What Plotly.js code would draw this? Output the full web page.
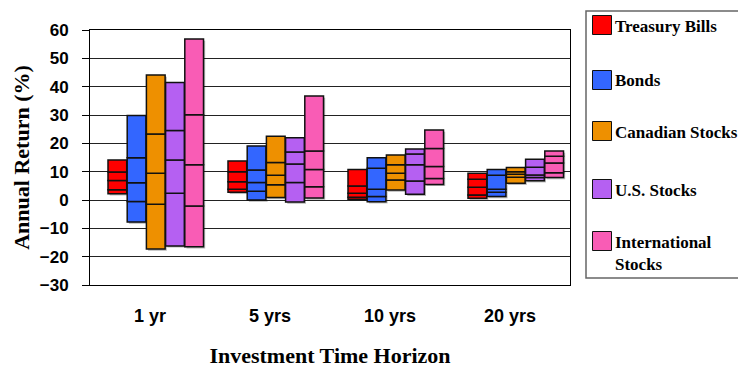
<!DOCTYPE html>
<html>
<head>
<meta charset="utf-8">
<script src="https://cdn.plot.ly/plotly-3.0.1.min.js"></script>
<style>
  html, body { margin: 0; padding: 0; background: #fff; }
  #chart { width: 738px; height: 368px; }
</style>
</head>
<body>
<div id="chart"></div>
<script>
// Investment horizons on the category axis
const horizons = ['1 yr', '5 yrs', '10 yrs', '20 yrs'];

// Asset classes, in drawing order
const assetNames = ['Treasury Bills', 'Bonds', 'Canadian Stocks', 'U.S. Stocks', 'International Stocks'];
const legendLabels = ['Treasury Bills', 'Bonds', 'Canadian Stocks', 'U.S. Stocks', 'International<br>Stocks'];
const assetColors = ['#FF0000', '#3366FF', '#EE9000', '#B560F2', '#F95CB5'];

// Annual return (%) per horizon: [min, lower quartile, median, upper quartile, max]
const treasuryBills = [
  [2.2, 3.6, 6.9, 9.9, 14.1],
  [2.7, 3.8, 6.4, 10.0, 13.8],
  [0.3, 1.0, 2.4, 4.9, 10.8],
  [0.6, 1.8, 4.5, 7.3, 9.4]
];
const bonds = [
  [-7.8, -0.5, 6.1, 14.9, 29.8],
  [0.0, 3.1, 6.2, 10.6, 19.1],
  [-0.6, 1.2, 3.8, 11.2, 14.9],
  [1.2, 2.7, 3.8, 8.7, 10.8]
];
const canadianStocks = [
  [-17.3, -1.5, 9.4, 23.3, 44.1],
  [0.9, 5.4, 8.7, 13.2, 22.5],
  [3.5, 7.1, 9.4, 12.4, 15.9],
  [5.9, 8.0, 9.1, 10.0, 11.5]
];
const usStocks = [
  [-16.2, 2.4, 14.1, 24.5, 41.5],
  [-0.7, 6.2, 12.7, 16.9, 22.0],
  [2.0, 6.7, 12.4, 16.2, 18.0],
  [6.8, 7.9, 8.8, 11.6, 14.4]
];
const internationalStocks = [
  [-16.5, -2.1, 12.4, 30.1, 56.8],
  [0.7, 4.7, 10.8, 17.3, 36.7],
  [5.5, 7.6, 11.8, 18.2, 24.7],
  [7.9, 9.6, 13.1, 15.4, 17.3]
];

const assetStats = [treasuryBills, bonds, canadianStocks, usStocks, internationalStocks];

// Box placement inside each horizon slot (category units)
const boxWidth = 0.156;
const boxStep = 0.16;
const firstOffset = -0.35;

const traces = [];
assetStats.forEach((stats, s) => {
  // soft drop shadow behind the whole box
  traces.push({
    type: 'bar',
    name: assetNames[s] + ' shadow',
    x: horizons,
    base: stats.map(r => r[0] - 0.6),
    y: stats.map(r => r[4] - r[0]),
    offset: firstOffset + s * boxStep + 0.014,
    width: boxWidth,
    marker: { color: 'rgba(0,0,0,0.28)', line: { width: 0 } },
    showlegend: false,
    hoverinfo: 'skip'
  });
  // Each box is four stacked bands between consecutive statistics
  for (let k = 0; k < 4; k++) {
    traces.push({
      type: 'bar',
      name: assetNames[s],
      x: horizons,
      base: stats.map(r => r[k]),
      y: stats.map(r => r[k + 1] - r[k]),
      offset: firstOffset + s * boxStep,
      width: boxWidth,
      marker: { color: assetColors[s], line: { color: '#111', width: 1.5 } },
      showlegend: false,
      hovertemplate: assetNames[s] + ' %{x}: %{base:.1f} to %{customdata:.1f}%<extra></extra>',
      customdata: stats.map(r => r[k + 1])
    });
  }
});

// Chart area geometry in pixels, for placing the key box
const W = 738, H = 368;
const M = { l: 90, r: 168, t: 30, b: 83 };
const plotW = W - M.l - M.r, plotH = H - M.t - M.b;
const px = v => (v - M.l) / plotW;
const py = v => (H - M.b - v) / plotH;

const shapes = [{
  type: 'rect', xref: 'paper', yref: 'paper',
  x0: px(586), x1: px(760), y0: py(278), y1: py(11),
  line: { color: '#666', width: 1.5 }, fillcolor: '#fff', layer: 'above'
}];
const annotations = [];
const keyCenters = [25, 80, 131, 189, 241];
assetNames.forEach((n, s) => {
  const c = keyCenters[s];
  shapes.push({
    type: 'rect', xref: 'paper', yref: 'paper',
    x0: px(592.5), x1: px(611.5), y0: py(c + 9.5), y1: py(c - 9.5),
    line: { color: '#111', width: 1 }, fillcolor: assetColors[s], layer: 'above'
  });
  const twoLine = legendLabels[s].indexOf('<br>') >= 0;
  annotations.push({
    xref: 'paper', yref: 'paper', x: px(613),
    y: twoLine ? py(c - 10) : py(c + 1),
    xanchor: 'left', yanchor: twoLine ? 'top' : 'middle', align: 'left',
    showarrow: false, text: legendLabels[s],
    font: { family: '"Times New Roman", "Liberation Serif", serif', size: 17, weight: 'bold', color: '#000' }
  });
});

const layout = {
  width: W, height: H,
  margin: { l: M.l, r: M.r, t: M.t, b: M.b, autoexpand: false },
  paper_bgcolor: '#fff', plot_bgcolor: '#fff',
  barmode: 'overlay',
  showlegend: false,
  xaxis: {
    type: 'category',
    range: [-0.5, 3.5],
    showline: true, mirror: true, linecolor: '#000', linewidth: 1,
    ticks: '', showgrid: false,
    tickfont: { family: 'Arial, "Liberation Sans", sans-serif', size: 18, weight: 'bold', color: '#000' },
    ticklabelstandoff: 14,
    title: {
      text: 'Investment Time Horizon',
      font: { family: '"Times New Roman", "Liberation Serif", serif', size: 22, weight: 'bold', color: '#000' },
      standoff: 25
    },
    fixedrange: true
  },
  yaxis: {
    range: [-30, 60], dtick: 10, tick0: 0,
    showline: true, mirror: true, linecolor: '#000', linewidth: 1,
    ticks: 'outside', ticklen: 7, tickcolor: '#000', tickwidth: 1,
    showgrid: true, gridcolor: '#222', gridwidth: 1, zeroline: false,
    tickfont: { family: 'Arial, "Liberation Sans", sans-serif', size: 17, weight: 'bold', color: '#000' },
    ticklabelstandoff: 10,
    title: {
      text: 'Annual Return (%)',
      font: { family: '"Times New Roman", "Liberation Serif", serif', size: 22, weight: 'bold', color: '#000' },
      standoff: 4
    },
    fixedrange: true
  },
  shapes: shapes,
  annotations: annotations
};

Plotly.newPlot('chart', traces, layout, { displayModeBar: false, staticPlot: true });
</script>
</body>
</html>
